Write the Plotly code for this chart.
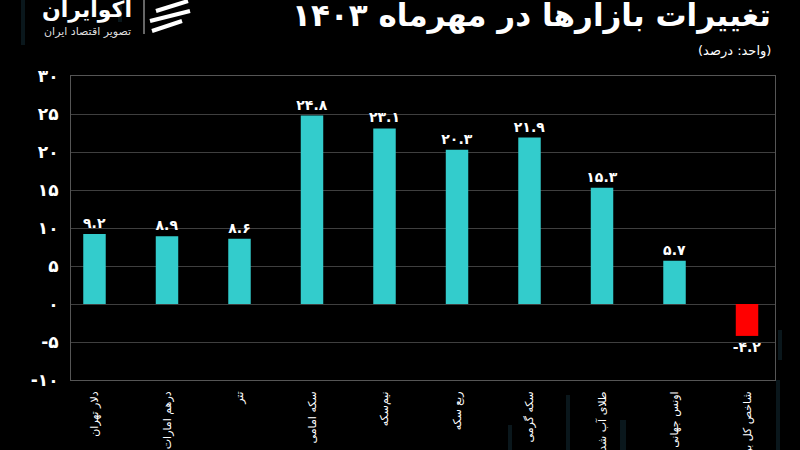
import plotly.graph_objects as go

categories = ["دلار تهران", "درهم امارات", "تتر", "سکه امامی", "نیم‌سکه",
              "ربع سکه", "سکه گرمی", "طلای آب شده", "اونس جهانی", "شاخص کل بورس"]
values = [9.2, 8.9, 8.6, 24.8, 23.1, 20.3, 21.9, 15.3, 5.7, -4.2]
y_ticks = [-10, -5, 0, 5, 10, 15, 20, 25, 30]

FA = str.maketrans("0123456789", "۰۱۲۳۴۵۶۷۸۹")
def fa(v):
    return str(v).translate(FA)

bar_labels = [fa(v) for v in values]
y_tick_text = [fa(v) for v in y_ticks]
colors = ["#ff0000" if v < 0 else "#33cccc" for v in values]

FONT = "DejaVu Sans"

fig = go.Figure()
fig.add_trace(go.Bar(
    x=categories, y=values, marker=dict(color=colors, line=dict(width=0)),
    width=0.31, text=bar_labels, textposition="outside", cliponaxis=False,
    constraintext="none",
    textfont=dict(color="white", size=14, family=FONT, weight="bold"),
    showlegend=False,
))

fig.update_layout(
    width=800, height=450,
    margin=dict(l=71, r=25, t=76, b=70),
    paper_bgcolor="black", plot_bgcolor="black",
    font=dict(family=FONT, color="white"),
    xaxis=dict(range=[-0.324, 9.386], showgrid=False, tickangle=-90,
               tickfont=dict(size=11, color="white", family=FONT),
               showline=True, linecolor="#555", mirror=True, ticks="",
               automargin=False, ticklabelstandoff=6, fixedrange=True),
    yaxis=dict(range=[-10, 30], tickvals=y_ticks, ticktext=y_tick_text,
               showgrid=True, gridcolor="#3f3f3f", gridwidth=1, zeroline=False,
               showline=True, linecolor="#555", mirror=True, ticks="",
               tickfont=dict(size=17, color="white", family=FONT, weight="bold"),
               automargin=False, ticklabelstandoff=8),
    bargap=0.5,
)

# faint decorative background bars
deco = [(21, 0, 25, 45), (118, 5, 122, 22), (776, 380, 780, 450), (620, 420, 626, 450),
        (508, 425, 512, 450), (566, 395, 570, 450), (778, 330, 782, 360)]
for x0, y0, x1, y1 in deco:
    fig.add_shape(type="rect", xref="paper", yref="paper",
                  x0=(x0 - 71) / 704, x1=(x1 - 71) / 704,
                  y0=(380 - y1) / 304, y1=(380 - y0) / 304,
                  fillcolor="rgba(40,90,110,0.25)", line=dict(width=0), layer="below")

# title & subtitle
fig.add_annotation(text="<b>تغییرات بازارها در مهرماه ۱۴۰۳</b>", xref="paper", yref="paper",
                   x=(773 - 71) / 704, y=(380 - 16) / 304, xanchor="right", yanchor="middle",
                   showarrow=False, font=dict(size=31, color="white", family=FONT))
fig.add_annotation(text="(واحد: درصد)", xref="paper", yref="paper",
                   x=(773 - 71) / 704, y=(380 - 51) / 304, xanchor="right", yanchor="middle",
                   showarrow=False, font=dict(size=13, color="white", family=FONT))

# logo
fig.add_annotation(text="<b>آکوایران</b>", xref="paper", yref="paper",
                   x=(134 - 71) / 704, y=(380 - 9) / 304, xanchor="right", yanchor="middle",
                   showarrow=False, font=dict(size=22, color="white", family=FONT))
fig.add_annotation(text="تصویر اقتصاد ایران", xref="paper", yref="paper",
                   x=(133 - 71) / 704, y=(380 - 31) / 304, xanchor="right", yanchor="middle",
                   showarrow=False, font=dict(size=11, color="#dddddd", family=FONT))
fig.add_shape(type="line", xref="paper", yref="paper",
              x0=(144 - 71) / 704, x1=(144 - 71) / 704, y0=(380 - 34) / 304, y1=(380 - 0) / 304,
              line=dict(color="#cccccc", width=1))
for yy, xs, xe in [(6, 156, 188), (16, 150, 190), (26, 152, 182)]:
    fig.add_shape(type="line", xref="paper", yref="paper",
                  x0=(xs - 71) / 704, x1=(xe - 71) / 704,
                  y0=(380 - yy - 5) / 304, y1=(380 - yy + 5) / 304,
                  line=dict(color="white", width=4))

fig.write_html("out.html")
